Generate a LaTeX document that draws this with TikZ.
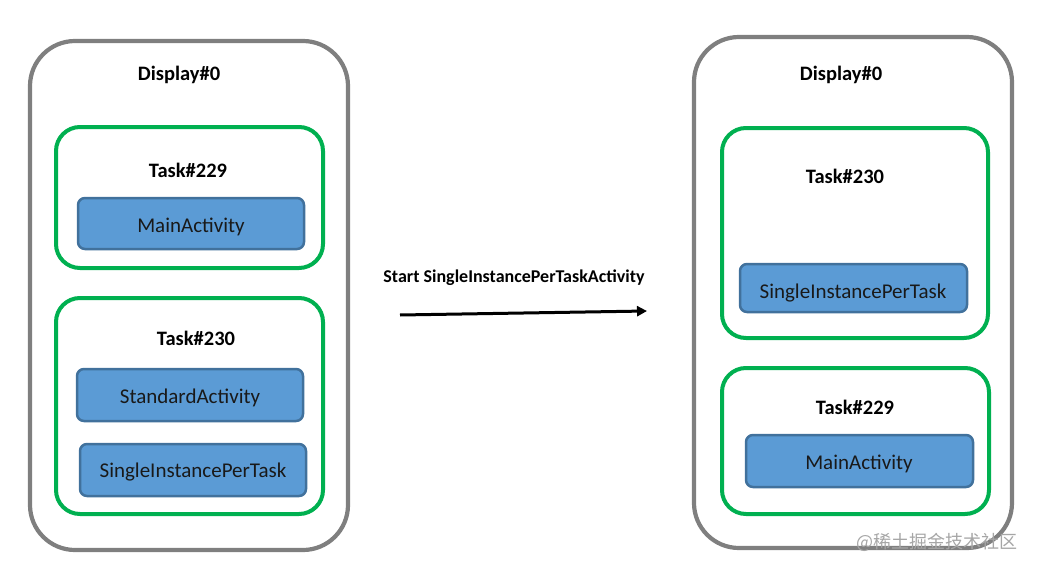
\documentclass[tikz,border=0pt]{standalone}
\usepackage{fontspec}
\setmainfont{Carlito}
\newfontfamily\cjk{Noto Sans CJK SC}
\usetikzlibrary{arrows.meta}
\definecolor{dispgray}{HTML}{7F7F7F}
\definecolor{taskgreen}{HTML}{00B050}
\definecolor{actfill}{HTML}{5B9BD5}
\definecolor{actline}{HTML}{41719C}
\begin{document}
\begin{tikzpicture}[x=1pt,y=-1pt,
  displaybox/.style={draw=dispgray,line width=4.2pt,rounded corners=45pt},
  taskbox/.style={draw=taskgreen,line width=4pt,rounded corners=24pt},
  actbox/.style={draw=actline,fill=actfill,line width=2.5pt,rounded corners=7pt},
  boldlabel/.style={font=\bfseries\fontsize{20.5}{24}\selectfont},
  actlabel/.style={font=\fontsize{21}{25}\selectfont,text=black!90}]
\useasboundingbox (0,0) rectangle (1037,570);
% left
\draw[displaybox] (30,41) rectangle (348,550);
\node[boldlabel] (ld) at (179,75) {Display\#0};
\draw[taskbox] (56,127) rectangle (323,268);
\node[boldlabel] (lt229) at (188,170) {Task\#229};
\draw[actbox] (78,198) rectangle (304,249);
\node[actlabel] (lmain) at (191,227) {MainActivity};
\draw[taskbox] (56,298) rectangle (323,514);
\node[boldlabel] (lt230) at (196,338) {Task\#230};
\draw[actbox] (77,369) rectangle (303,421);
\node[actlabel] (lstd) at (190,398) {StandardActivity};
\draw[actbox] (80,444) rectangle (306,496);
\node[actlabel] (lsingle) at (193,472) {SingleInstancePerTask};
% arrow
\node[font=\bfseries\fontsize{18}{21}\selectfont] (lab) at (514,278) {Start SingleInstancePerTaskActivity};
\coordinate (as) at (400,315);
\coordinate (ae) at (647,311);
\draw[line width=3pt,-{Triangle[length=10pt,width=10pt]}] (as) -- (ae);
% right
\draw[displaybox] (694,37) rectangle (1012,548);
\node[boldlabel] (rd) at (841,75) {Display\#0};
\draw[taskbox] (722,128) rectangle (988,338);
\node[boldlabel] (rt230) at (845,176) {Task\#230};
\draw[actbox] (740,264) rectangle (967,312);
\node[actlabel] (rsingle) at (853,293) {SingleInstancePerTask};
\draw[taskbox] (722,368) rectangle (989,514);
\node[boldlabel] (rt229) at (855,407) {Task\#229};
\draw[actbox] (746,435) rectangle (973,487);
\node[actlabel] (rmain) at (859,464) {MainActivity};
% watermark
\node[font=\cjk\fontsize{18}{20}\selectfont,text=black!35,anchor=east] (wm) at (1021,542) {@稀土掘金技术社区};
\end{tikzpicture}
\end{document}
